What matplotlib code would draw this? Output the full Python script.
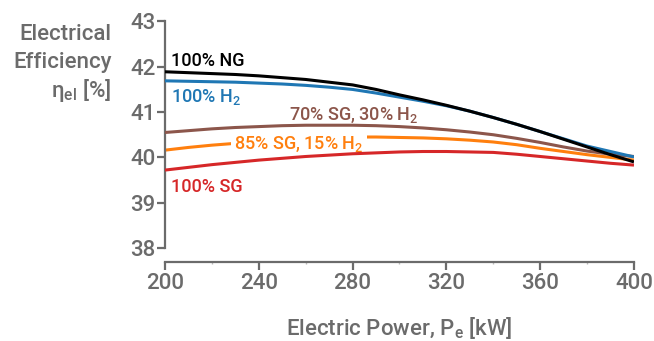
import numpy as np
import matplotlib.pyplot as plt

plt.rcParams['font.family'] = ['Roboto', 'DejaVu Sans']
plt.rcParams['font.weight'] = 'medium'
plt.rcParams['axes.labelweight'] = 'medium'
plt.rcParams['mathtext.fontset'] = 'custom'
plt.rcParams['mathtext.rm'] = 'Roboto:medium'
plt.rcParams['mathtext.it'] = 'Roboto:medium'
plt.rcParams['mathtext.default'] = 'rm'

gray = '#6b6b6b'

# electric power [kW]
power = [200, 210, 220, 230, 240, 250, 260, 270, 280, 290, 300,
         310, 320, 330, 340, 350, 360, 370, 380, 390, 400]

# electrical efficiency [%]
eff_ng = [41.89, 41.87, 41.85, 41.83, 41.80, 41.76, 41.72, 41.66, 41.60, 41.50, 41.38,
          41.27, 41.15, 41.02, 40.88, 40.73, 40.57, 40.40, 40.23, 40.06, 39.90]
eff_h2 = [41.69, 41.68, 41.67, 41.66, 41.64, 41.62, 41.59, 41.55, 41.50, 41.42, 41.33,
          41.24, 41.14, 41.02, 40.88, 40.73, 40.57, 40.41, 40.25, 40.13, 40.01]
eff_70sg = [40.55, 40.59, 40.63, 40.66, 40.68, 40.70, 40.71, 40.71, 40.71, 40.70, 40.68,
            40.65, 40.61, 40.56, 40.50, 40.42, 40.33, 40.23, 40.14, 40.07, 40.02]
eff_85sg = [40.16, 40.22, 40.27, 40.31, 40.35, 40.39, 40.42, 40.44, 40.45, 40.45, 40.44,
            40.43, 40.41, 40.38, 40.34, 40.28, 40.20, 40.13, 40.06, 40.00, 39.94]
eff_sg = [39.72, 39.78, 39.84, 39.89, 39.94, 39.98, 40.02, 40.05, 40.08, 40.10, 40.12,
          40.13, 40.13, 40.12, 40.11, 40.07, 40.02, 39.97, 39.92, 39.87, 39.83]

labels = ['100% NG', '100% H$_2$', '70% SG, 30% H$_2$', '85% SG, 15% H$_2$', '100% SG']
colors = ['black', '#1f77b4', '#8c564b', '#ff7f0e', '#d62728']
series = [eff_ng, eff_h2, eff_70sg, eff_85sg, eff_sg]

# label anchor points (x, y) in data units
label_x = [202.5, 202.5, 253, 229.5, 202.5]
label_y = [42.02, 41.23, 40.83, 40.28, 39.24]

fig = plt.figure(figsize=(6.54, 3.41), dpi=100)
ax = fig.add_axes([0.2523, 0.2727, 0.7171, 0.6643])

# orange underneath its label box, the rest on top
zorders = [6, 5, 4, 2, 4]
for i in range(5):
    ax.plot(power, series[i], color=colors[i], lw=2.2, solid_capstyle='butt',
            solid_joinstyle='round', zorder=zorders[i])

for i in range(5):
    if i == 3:
        ax.text(label_x[i], label_y[i], labels[i], color=colors[i], fontsize=13,
                va='center', ha='left', zorder=3,
                bbox=dict(facecolor='white', edgecolor='none', pad=2))
    else:
        ax.text(label_x[i], label_y[i], labels[i], color=colors[i], fontsize=13,
                va='baseline', ha='left', zorder=7)

ax.set_xlim(200, 400)
ax.set_ylim(38, 43)
ax.set_xticks([200, 240, 280, 320, 360, 400])
ax.set_xticks([220, 260, 300, 340, 380], minor=True)
ax.set_yticks([38, 39, 40, 41, 42, 43])

for s in ['top', 'right']:
    ax.spines[s].set_visible(False)
for s in ['left', 'bottom']:
    ax.spines[s].set_color(gray)
    ax.spines[s].set_linewidth(1.6)
ax.spines['bottom'].set_position(('outward', 10))
ax.spines['left'].set_bounds(38, 43)
ax.spines['bottom'].set_bounds(200, 400)

ax.tick_params(axis='both', which='major', length=6, width=1.6, color=gray,
               labelcolor=gray, labelsize=16, pad=1)
ax.tick_params(axis='x', which='minor', length=1.5, width=1, color='#bbbbbb')
ax.tick_params(axis='x', which='major', pad=2)

ax.set_xlabel('Electric Power, P$_e$ [kW]', color=gray, fontsize=16, labelpad=15)

fig.text(0.171, 0.883, 'Electrical', color=gray, fontsize=16, ha='right', va='baseline')
fig.text(0.171, 0.80, 'Efficiency', color=gray, fontsize=16, ha='right', va='baseline')
fig.text(0.171, 0.715, r'$\eta_{el}$ [%]', color=gray, fontsize=16, ha='right', va='baseline')

fig.savefig('out.png', dpi=100)
